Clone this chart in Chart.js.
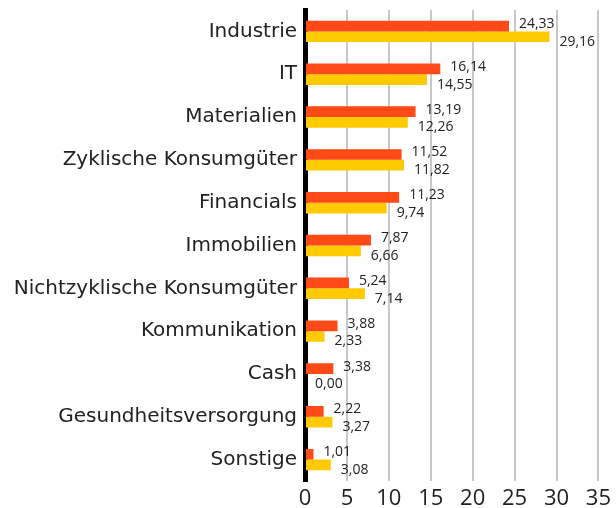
<!DOCTYPE html>
<html>
<head>
<meta charset="utf-8">
<script src="https://cdn.jsdelivr.net/npm/chart.js@4"></script>
<style>
  html, body { margin: 0; padding: 0; background: #fff; }
  #wrap { width: 616px; height: 508px; position: relative; }
</style>
</head>
<body>
<div id="wrap"><canvas id="sectorChart"></canvas></div>
<script>
const categories = ['Industrie', 'IT', 'Materialien', 'Zyklische Konsumgüter', 'Financials', 'Immobilien',
    'Nichtzyklische Konsumgüter', 'Kommunikation', 'Cash', 'Gesundheitsversorgung', 'Sonstige'];
const fundValues = [24.33, 16.14, 13.19, 11.52, 11.23, 7.87, 5.24, 3.88, 3.38, 2.22, 1.01];
const benchValues = [29.16, 14.55, 12.26, 11.82, 9.74, 6.66, 7.14, 2.33, 0.00, 3.27, 3.08];
const xTicks = [0, 5, 10, 15, 20, 25, 30, 35];

const FONT = 'Open Sans';
const TEXT = '#222';

// value labels next to each bar, red a bit up, yellow a bit down
const valueLabels = {
    id: 'valueLabels',
    afterDatasetsDraw(chart) {
        const ctx = chart.ctx;
        ctx.save();
        ctx.font = `14px "${FONT}"`;
        ctx.fillStyle = TEXT;
        ctx.textBaseline = 'middle';
        ctx.textAlign = 'left';
        chart.data.datasets.forEach((ds, i) => {
            const meta = chart.getDatasetMeta(i);
            const dy = i === 0 ? -2 : 5;
            meta.data.forEach((bar, j) => {
                const txt = ds.data[j].toFixed(2).replace('.', ',');
                ctx.fillText(txt, bar.x + 10, bar.y + dy);
            });
        });
        ctx.restore();
    }
};

new Chart(document.getElementById('sectorChart'), {
    type: 'bar',
    data: {
        labels: categories,
        datasets: [
            { label: 'Fonds', data: fundValues, backgroundColor: '#fd4a17', barPercentage: 1, categoryPercentage: 0.5 },
            { label: 'Index', data: benchValues, backgroundColor: '#ffcb00', barPercentage: 1, categoryPercentage: 0.5 }
        ]
    },
    options: {
        indexAxis: 'y',
        responsive: true,
        maintainAspectRatio: false,
        animation: false,
        layout: { padding: { top: 10, right: 11, left: 0, bottom: 0 } },
        plugins: { legend: { display: false }, tooltip: { enabled: false } },
        scales: {
            x: {
                min: 0,
                max: 35,
                afterBuildTicks: s => { s.ticks = xTicks.map(v => ({ value: v })); },
                afterFit: s => { s.height = 27; },
                border: { display: false },
                grid: {
                    drawTicks: false,
                    color: c => c.tick && c.tick.value === 0 ? 'rgba(0,0,0,0)' : '#c8c8c8',
                    lineWidth: 2
                },
                ticks: { color: TEXT, padding: 5, font: { family: FONT, size: 22 } }
            },
            y: {
                z: 1,
                afterFit: s => { s.width = 305; s.paddingTop = 0; s.paddingBottom = 0; },
                border: { display: true, color: '#000', width: 5 },
                grid: { display: false, drawTicks: false },
                ticks: { color: TEXT, padding: 8, font: { family: 'DejaVu Sans', size: 20 } }
            }
        }
    },
    plugins: [valueLabels]
});
</script>
</body>
</html>
